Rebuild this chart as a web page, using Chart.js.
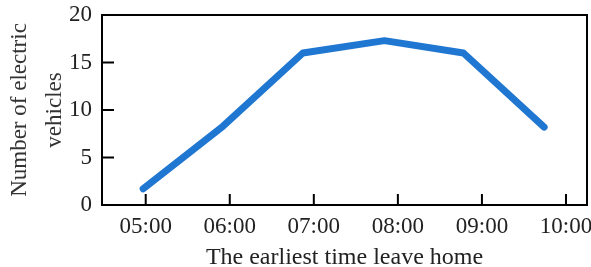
<!DOCTYPE html>
<html>
<head>
<meta charset="utf-8">
<script src="https://cdn.jsdelivr.net/npm/chart.js@4/dist/chart.umd.min.js"></script>
<style>
  html, body { margin: 0; padding: 0; background: #fff; }
  #wrap { width: 591px; height: 267px; position: relative; }
</style>
</head>
<body>
<div id="wrap"><canvas id="chart"></canvas></div>
<script>
// Earliest departure time vs number of EVs
const times = [4.97, 5.92, 6.87, 7.84, 8.78, 9.74]; // hours
const vehicles = [1.7, 8.3, 16.0, 17.3, 16.0, 8.2];
const xTicks = [5, 6, 7, 8, 9, 10];
const xTickLabels = ['05:00', '06:00', '07:00', '08:00', '09:00', '10:00'];
const yTicks = [0, 5, 10, 15, 20];

const serif = "'Liberation Serif', 'DejaVu Serif', serif";

// full frame + inward tick marks
const framePlugin = {
  id: 'frame',
  beforeDatasetsDraw(chart) {
    const { ctx, chartArea: a, scales } = chart;
    ctx.save();
    ctx.strokeStyle = '#000';
    ctx.lineWidth = 2;
    ctx.beginPath();
    scales.x.ticks.forEach(t => {
      const px = scales.x.getPixelForValue(t.value);
      ctx.moveTo(px, a.bottom);
      ctx.lineTo(px, a.bottom - 11);
    });
    scales.y.ticks.forEach(t => {
      const py = scales.y.getPixelForValue(t.value);
      ctx.moveTo(a.left, py);
      ctx.lineTo(a.left + 12, py);
    });
    ctx.stroke();
    ctx.strokeRect(a.left, a.top, a.right - a.left, a.bottom - a.top);
    ctx.restore();
  }
};

new Chart(document.getElementById('chart'), {
  type: 'line',
  data: {
    datasets: [{
      data: times.map((t, i) => ({ x: t, y: vehicles[i] })),
      borderColor: 'rgb(31,119,210)',
      borderWidth: 7,
      borderCapStyle: 'round',
      borderJoinStyle: 'round',
      pointRadius: 0,
      tension: 0,
      fill: false,
    }],
  },
  options: {
    responsive: true,
    maintainAspectRatio: false,
    animation: false,
    layout: { padding: { left: 0, right: 4, top: 15, bottom: 0 } },
    plugins: { legend: { display: false }, tooltip: { enabled: false } },
    scales: {
      x: {
        type: 'linear',
        min: 4.48,
        max: 10.25,
        afterBuildTicks: s => { s.ticks = xTicks.map(v => ({ value: v })); },
        afterFit: s => { s.height = 62; s.paddingLeft = 0; s.paddingRight = 0; },
        grid: { display: false, drawTicks: false },
        border: { display: false },
        ticks: {
          padding: 8,
          color: '#222',
          font: { family: serif, size: 23 },
          callback: v => xTickLabels[xTicks.indexOf(v)],
        },
        title: {
          display: true,
          text: 'The earliest time leave home',
          color: '#222',
          font: { family: serif, size: 24, lineHeight: 0.8 },
          padding: { top: 0, bottom: 0 },
        },
      },
      y: {
        min: 0,
        max: 20,
        afterBuildTicks: s => { s.ticks = yTicks.map(v => ({ value: v })); },
        afterFit: s => { s.width = 102; s.paddingTop = 0; s.paddingBottom = 0; },
        grid: { display: false, drawTicks: false },
        border: { display: false },
        ticks: {
          padding: 10,
          color: '#222',
          font: { family: serif, size: 23 },
        },
        title: {
          display: true,
          text: ['Number of electric', 'vehicles'],
          color: '#333',
          font: { family: serif, size: 23, lineHeight: 1.5 },
          padding: { top: 3, bottom: 0 },
        },
      },
    },
  },
  plugins: [framePlugin],
});
</script>
</body>
</html>
